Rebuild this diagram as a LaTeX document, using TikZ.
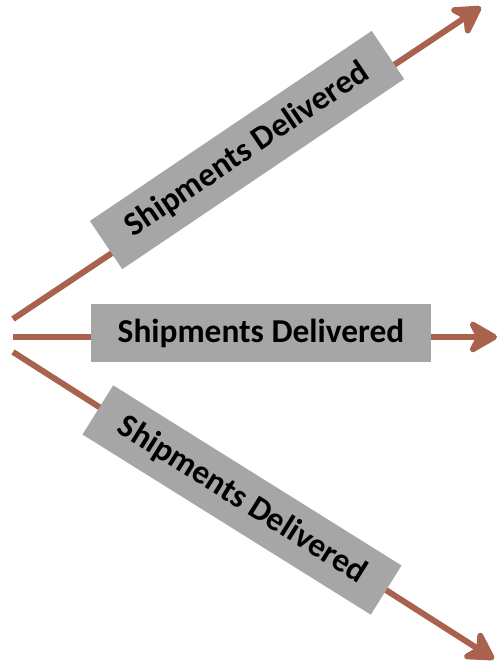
\documentclass[tikz,border=0pt]{standalone}
\usepackage{fontspec}
\setmainfont{Carlito}
\usetikzlibrary{arrows.meta}
\definecolor{rust}{HTML}{A8624D}
\definecolor{tagfill}{HTML}{A6A6A6}
\tikzset{
	flow/.style={draw=rust, line width=3.4pt, -{Stealth[length=0.68cm, width=0.78cm, inset=0.2cm, round]}},
	tag/.style={shape=rectangle, fill=tagfill, minimum width=6.8cm, minimum height=1.16cm, inner sep=0pt, font=\fontsize{19}{22}\selectfont\bfseries}
}
\begin{document}
\begin{tikzpicture}[x=0.02cm, y=-0.02cm]
	\useasboundingbox (0,0) rectangle (498,670);
	\coordinate (srcUp) at (13, 319);
	\coordinate (srcMid) at (13, 337);
	\coordinate (srcLow) at (13, 352);
	\coordinate (tipUp) at (481, 7);
	\coordinate (tipMid) at (497, 337);
	\coordinate (tipLow) at (494, 659);
	\draw[flow] (srcUp) -- (tipUp);
	\draw[flow] (srcMid) -- (tipMid);
	\draw[flow] (srcLow) -- (tipLow);
	\node[tag, rotate=34] (shipUp) at (247, 150){Shipments Delivered};
	\node[tag] (shipMid) at (261, 333){Shipments Delivered};
	\node[tag, rotate=-32] (shipLow) at (242, 500){Shipments Delivered};
\end{tikzpicture}
\end{document}
